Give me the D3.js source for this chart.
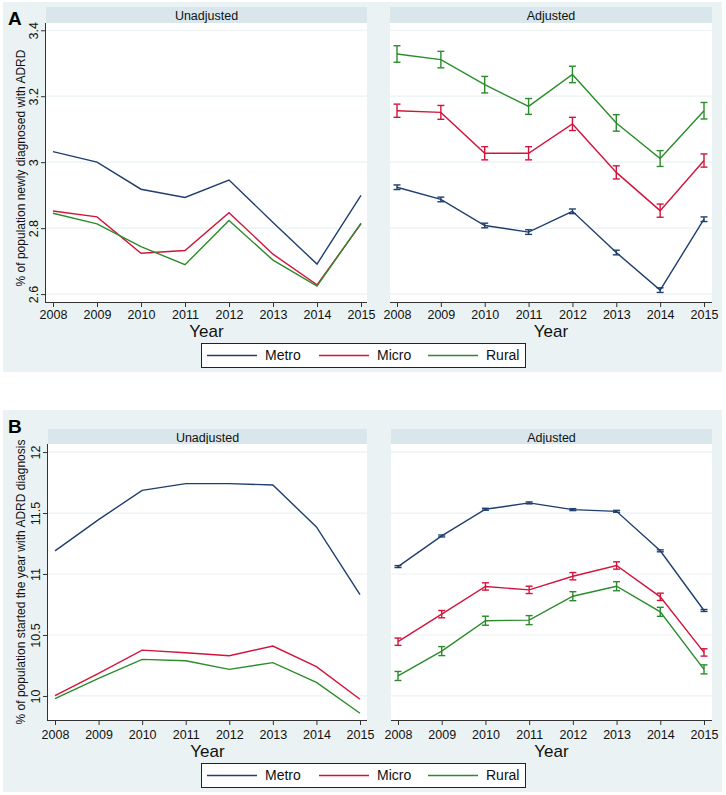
<!DOCTYPE html>
<html>
<head>
<meta charset="utf-8">
<script src="https://cdn.jsdelivr.net/npm/d3@7"></script>
<style>
  html, body { margin: 0; padding: 0; background: #ffffff; }
  svg { display: block; font-family: "Liberation Sans", Arial, sans-serif; }
</style>
</head>
<body>
<svg id="chart" width="726" height="795"></svg>
<script>
// ---------- DATA ----------
const years = [2008, 2009, 2010, 2011, 2012, 2013, 2014, 2015];
const seriesNames = ["Metro", "Micro", "Rural"];
const seriesColors = ["#1f3f6e", "#d2143c", "#2a8c2a"];

// Panel A: % of population newly diagnosed with ADRD
const aUnadjMetro = [3.032, 3.000, 2.918, 2.893, 2.946, 2.817, 2.691, 2.899];
const aUnadjMicro = [2.852, 2.834, 2.724, 2.732, 2.847, 2.721, 2.628, 2.813];
const aUnadjRural = [2.845, 2.813, 2.744, 2.689, 2.823, 2.703, 2.624, 2.815];
const aAdjMetro = [2.924, 2.887, 2.808, 2.788, 2.851, 2.726, 2.612, 2.827];
const aAdjMicro = [3.156, 3.151, 3.027, 3.027, 3.116, 2.969, 2.853, 3.005];
const aAdjRural = [3.328, 3.311, 3.235, 3.169, 3.266, 3.119, 3.011, 3.156];
const aAdjMetroErr = [0.007, 0.007, 0.007, 0.007, 0.007, 0.007, 0.007, 0.007];
const aAdjMicroErr = [0.020, 0.021, 0.020, 0.020, 0.020, 0.020, 0.020, 0.020];
const aAdjRuralErr = [0.025, 0.025, 0.025, 0.024, 0.025, 0.025, 0.024, 0.025];
const aYTicks = [2.6, 2.8, 3, 3.2, 3.4];
const aYDomain = [2.576, 3.422];

// Panel B: % of population started the year with ADRD diagnosis
const bUnadjMetro = [11.19, 11.446, 11.686, 11.741, 11.741, 11.73, 11.386, 10.83];
const bUnadjMicro = [10.003, 10.186, 10.376, 10.355, 10.33, 10.409, 10.24, 9.973];
const bUnadjRural = [9.978, 10.145, 10.30, 10.289, 10.218, 10.273, 10.112, 9.858];
const bAdjMetro = [11.061, 11.312, 11.531, 11.583, 11.528, 11.514, 11.19, 10.701];
const bAdjMicro = [10.445, 10.671, 10.898, 10.87, 10.982, 11.07, 10.813, 10.357];
const bAdjRural = [10.164, 10.368, 10.617, 10.622, 10.818, 10.90, 10.69, 10.218];
const bAdjMetroErr = [0.008, 0.008, 0.008, 0.008, 0.008, 0.008, 0.008, 0.008];
const bAdjMicroErr = [0.030, 0.030, 0.030, 0.030, 0.030, 0.030, 0.030, 0.030];
const bAdjRuralErr = [0.037, 0.037, 0.037, 0.037, 0.037, 0.037, 0.037, 0.037];
const bYTicks = [10, 10.5, 11, 11.5, 12];
const bYDomain = [9.803, 12.066];

// ---------- DRAWING ----------
const svg = d3.select("#chart");
const BG = "#eaf2f3", STRIP = "#d9e6eb", GRID = "#eaf2f3";

function drawFigure(cfg) {
  // background
  svg.append("rect").attr("x", cfg.bg[0]).attr("y", cfg.bg[1])
    .attr("width", cfg.bg[2]).attr("height", cfg.bg[3]).attr("fill", BG);
  // panel letter
  svg.append("text").attr("x", cfg.letterPos[0]).attr("y", cfg.letterPos[1])
    .attr("font-size", 19).attr("font-weight", "bold").attr("fill", "#000")
    .text(cfg.letter);

  const y = d3.scaleLinear().domain(cfg.yDomain).range([cfg.bottom, cfg.top]);

  cfg.panels.forEach((p, pi) => {
    const x = d3.scaleLinear().domain([years[0], years[years.length - 1]]).range(p.xRange);
    // strip
    svg.append("rect").attr("x", p.left).attr("y", cfg.stripTop)
      .attr("width", p.right - p.left).attr("height", cfg.top - cfg.stripTop).attr("fill", STRIP);
    svg.append("text").attr("x", (p.left + p.right) / 2).attr("y", cfg.stripTop + cfg.stripTextDy)
      .attr("text-anchor", "middle").attr("font-size", 12.5).attr("fill", "#111")
      .text(p.title);
    // plot region
    svg.append("rect").attr("x", p.left).attr("y", cfg.top)
      .attr("width", p.right - p.left).attr("height", cfg.bottom - cfg.top).attr("fill", "#fff");
    // grid
    const g = svg.append("g");
    g.selectAll("line.grid").data(cfg.yTicks).join("line")
      .attr("x1", p.left).attr("x2", p.right)
      .attr("y1", d => y(d)).attr("y2", d => y(d))
      .attr("stroke", GRID).attr("stroke-width", 1.2);

    // x axis
    const xAxis = d3.axisBottom(x).tickValues(years).tickFormat(d3.format("d"))
      .tickSize(5).tickSizeOuter(0);
    const xa = svg.append("g").attr("transform", `translate(0,${cfg.bottom})`).call(xAxis);
    xa.select(".domain").remove();
    xa.append("line").attr("x1", p.left).attr("x2", p.right).attr("y1", 0.5).attr("y2", 0.5)
      .attr("stroke", "#333").attr("stroke-width", 1);
    xa.selectAll(".tick line").attr("stroke", "#333");
    xa.selectAll(".tick text").attr("font-size", 12.5).attr("fill", "#111")
      .attr("font-family", "Liberation Sans, Arial, sans-serif").attr("dy", null)
      .attr("y", cfg.xTickDy);
    svg.append("text").attr("x", (p.left + p.right) / 2).attr("y", cfg.bottom + cfg.yearDy)
      .attr("text-anchor", "middle").attr("font-size", 17).attr("fill", "#111").text("Year");

    // y axis on left panel only
    if (pi === 0) {
      const yAxis = d3.axisLeft(y).tickValues(cfg.yTicks).tickFormat(d => d3.format("")(d))
        .tickSize(5).tickSizeOuter(0);
      const ya = svg.append("g").attr("transform", `translate(${p.left},0)`).call(yAxis);
      ya.select(".domain").remove();
      ya.append("line").attr("x1", -0.5).attr("x2", -0.5).attr("y1", cfg.top).attr("y2", cfg.bottom + 1)
        .attr("stroke", "#333").attr("stroke-width", 1);
      ya.selectAll(".tick line").attr("stroke", "#333");
      ya.selectAll(".tick text").attr("font-size", 12.5).attr("fill", "#111")
        .attr("font-family", "Liberation Sans, Arial, sans-serif")
        .attr("x", null).attr("dy", null)
        .attr("text-anchor", "middle")
        .attr("transform", "translate(-8,0) rotate(-90)");
      svg.append("text")
        .attr("transform", `translate(${cfg.yTitleX},${cfg.yTitleY}) rotate(-90)`)
        .attr("text-anchor", "middle").attr("font-size", 12).attr("fill", "#111")
        .text(cfg.yTitle);
    }

    // series
    const line = d3.line().x((d, i) => x(years[i])).y(d => y(d));
    p.series.forEach((vals, si) => {
      svg.append("path").datum(vals).attr("d", line).attr("fill", "none")
        .attr("stroke", seriesColors[si]).attr("stroke-width", 1.4);
      if (p.errors) {
        const err = p.errors[si];
        const eg = svg.append("g").attr("stroke", seriesColors[si]).attr("stroke-width", 1.4);
        vals.forEach((v, i) => {
          const cx = x(years[i]);
          const y1 = y(v - err[i]), y2 = y(v + err[i]);
          eg.append("line").attr("x1", cx).attr("x2", cx).attr("y1", y1).attr("y2", y2);
          eg.append("line").attr("x1", cx - 3.5).attr("x2", cx + 3.5).attr("y1", y1).attr("y2", y1);
          eg.append("line").attr("x1", cx - 3.5).attr("x2", cx + 3.5).attr("y1", y2).attr("y2", y2);
        });
      }
    });
  });

  // legend
  const L = cfg.legend;
  svg.append("rect").attr("x", L.x + 0.5).attr("y", L.y + 0.5).attr("width", L.w).attr("height", L.h)
    .attr("fill", "#fff").attr("stroke", "#222").attr("stroke-width", 1);
  const itemX = [L.x + 6, L.x + 118, L.x + 227];
  seriesNames.forEach((n, i) => {
    svg.append("line").attr("x1", itemX[i]).attr("x2", itemX[i] + 50)
      .attr("y1", L.y + L.h / 2 + 0.5).attr("y2", L.y + L.h / 2 + 0.5)
      .attr("stroke", seriesColors[i]).attr("stroke-width", 1.4);
    svg.append("text").attr("x", itemX[i] + 58).attr("y", L.y + L.h / 2 + 5)
      .attr("font-size", 14).attr("fill", "#111").text(n);
  });
}

drawFigure({
  letter: "A", letterPos: [8, 25],
  bg: [3, 2, 719, 370],
  stripTop: 7, top: 23, bottom: 302, stripTextDy: 13,
  yDomain: aYDomain, yTicks: aYTicks,
  yTitle: "% of population newly diagnosed with ADRD", yTitleX: 25, yTitleY: 168,
  xTickDy: 17, yearDy: 35,
  legend: { x: 201, y: 343, w: 324, h: 24 },
  panels: [
    { title: "Unadjusted", left: 46, right: 367, xRange: [53, 361],
      series: [aUnadjMetro, aUnadjMicro, aUnadjRural] },
    { title: "Adjusted", left: 390, right: 712, xRange: [397, 704],
      series: [aAdjMetro, aAdjMicro, aAdjRural],
      errors: [aAdjMetroErr, aAdjMicroErr, aAdjRuralErr] }
  ]
});

drawFigure({
  letter: "B", letterPos: [8, 433],
  bg: [3, 410, 719, 382],
  stripTop: 429, top: 444, bottom: 720, stripTextDy: 13,
  yDomain: bYDomain, yTicks: bYTicks,
  yTitle: "% of population started the year with ADRD diagnosis", yTitleX: 25, yTitleY: 582,
  xTickDy: 19, yearDy: 37,
  legend: { x: 201, y: 763, w: 324, h: 24 },
  panels: [
    { title: "Unadjusted", left: 48, right: 367, xRange: [55, 360],
      series: [bUnadjMetro, bUnadjMicro, bUnadjRural] },
    { title: "Adjusted", left: 391, right: 712, xRange: [398, 704],
      series: [bAdjMetro, bAdjMicro, bAdjRural],
      errors: [bAdjMetroErr, bAdjMicroErr, bAdjRuralErr] }
  ]
});
</script>
</body>
</html>
